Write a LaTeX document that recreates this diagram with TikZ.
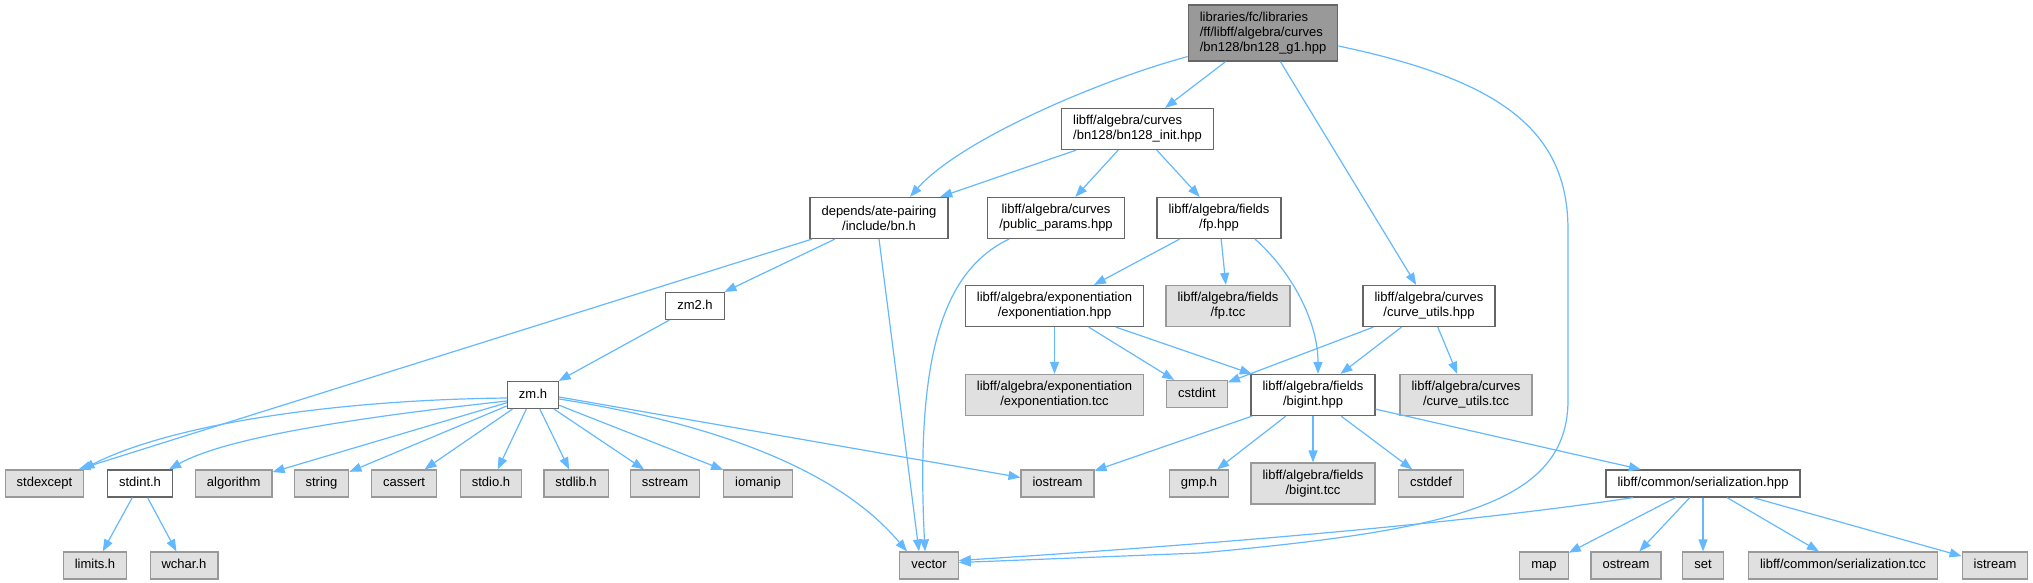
\documentclass[tikz,border=0pt]{standalone}
\usepackage{fontspec}
\setmainfont{Liberation Sans}
\usetikzlibrary{arrows.meta}
\definecolor{edgeblue}{HTML}{63B8FF}
\definecolor{nodeborder}{HTML}{666666}
\definecolor{extborder}{HTML}{999999}
\definecolor{extfill}{HTML}{E0E0E0}
\definecolor{rootfill}{HTML}{999999}
\begin{document}
\begin{tikzpicture}[x=1pt,y=-1pt,
  base/.style={line width=1.2pt, inner xsep=11.5pt, inner ysep=0pt,
    font=\fontsize{13}{15}\selectfont, align=center},
  one/.style={minimum height=27pt, text height=9.5pt, text depth=3pt},
  two/.style={minimum height=41pt},
  box1/.style={base, one, draw=nodeborder, fill=white},
  box2/.style={base, two, draw=nodeborder, fill=white},
  ext1/.style={base, one, draw=extborder, fill=extfill},
  ext2/.style={base, two, draw=extborder, fill=extfill},
  rootbox/.style={base, draw=nodeborder, fill=rootfill, minimum height=56pt, align=left},
  edge/.style={draw=edgeblue, line width=1.2pt, -{Triangle[length=12pt,width=9pt]}}
]
\useasboundingbox (0,0) rectangle (2033,583);

% nodes
\node[rootbox] (root) at (1263,33) {libraries/fc/libraries\\/ff/libff/algebra/curves\\/bn128/bn128\_g1.hpp};
\node[box2, align=left] (init) at (1137.5,129) {libff/algebra/curves\\/bn128/bn128\_init.hpp};
\node[box2] (bn) at (879,218) {depends/ate-pairing\\/include/bn.h};
\node[box2] (pp) at (1056,218) {libff/algebra/curves\\/public\_params.hpp};
\node[box2] (fp) at (1219,218) {libff/algebra/fields\\/fp.hpp};
\node[box2] (exph) at (1054.5,306) {libff/algebra/exponentiation\\/exponentiation.hpp};
\node[ext2] (fptcc) at (1228,306) {libff/algebra/fields\\/fp.tcc};
\node[box2] (cuh) at (1429,306) {libff/algebra/curves\\/curve\_utils.hpp};
\node[ext2] (exptcc) at (1054.5,395) {libff/algebra/exponentiation\\/exponentiation.tcc};
\node[ext1] (cstdint) at (1197,394) {cstdint};
\node[box2] (bigint) at (1313,395) {libff/algebra/fields\\/bigint.hpp};
\node[ext2] (cutcc) at (1466,395) {libff/algebra/curves\\/curve\_utils.tcc};
\node[box1] (zm2) at (695,306) {zm2.h};
\node[box1] (zm) at (533,395) {zm.h};

\node[ext1] (stdexcept) at (44.5,483.5) {stdexcept};
\node[box1] (stdint) at (140,483.5) {stdint.h};
\node[ext1] (algorithm) at (233.7,483.5) {algorithm};
\node[ext1] (string) at (321.5,483.5) {string};
\node[ext1] (cassert) at (404,483.5) {cassert};
\node[ext1] (stdio) at (491,483.5) {stdio.h};
\node[ext1] (stdlib) at (576,483.5) {stdlib.h};
\node[ext1] (sstream) at (665,483.5) {sstream};
\node[ext1] (iomanip) at (758,483.5) {iomanip};
\node[ext1] (iostream) at (1057.5,483.5) {iostream};
\node[ext1] (gmp) at (1199,483.5) {gmp.h};
\node[ext2] (bigtcc) at (1313,483.5) {libff/algebra/fields\\/bigint.tcc};
\node[ext1] (cstddef) at (1431,483.5) {cstddef};
\node[box1] (ser) at (1703,483.5) {libff/common/serialization.hpp};

\node[ext1] (limits) at (95,565.5) {limits.h};
\node[ext1] (wchar) at (184,565.5) {wchar.h};
\node[ext1] (vector) at (929,565.5) {vector};
\node[ext1] (map) at (1544,565.5) {map};
\node[ext1] (ostream) at (1626,565.5) {ostream};
\node[ext1] (set) at (1703,565.5) {set};
\node[ext1] (sertcc) at (1843,565.5) {libff/common/serialization.tcc};
\node[ext1] (istream) at (1995,565.5) {istream};

% edges from root
\draw[edge] ([yshift=5pt]root.south west) .. controls (1100,80) and (960,140) .. ([xshift=31pt]bn.north);
\draw[edge] (root) -- (init);
\draw[edge] (root) -- (cuh);
\draw[edge] ([yshift=-13pt]root.east) .. controls (1500,80) and (1568,130) .. (1568,230)
  -- (1568,400) .. controls (1568,505) and (1450,530) .. (1200,553) -- ([yshift=3pt]vector.east);

% bn128_init
\draw[edge] (init) -- (bn);
\draw[edge] (init) -- (pp);
\draw[edge] (init) -- (fp);

% bn.h
\draw[edge] (bn) -- ([xshift=-6pt]stdexcept.north east);
\draw[edge] (bn) -- (zm2);
\draw[edge] (bn.south) -- ([xshift=-10pt]vector.north);

% public params
\draw[edge] ([xshift=-47pt]pp.south) .. controls (945,270) and (915,350) .. ([xshift=-4pt]vector.north);

% zm2 / zm
\draw[edge] (zm2) -- (zm);
\draw[edge] ([yshift=-3pt]zm.west) .. controls (330,400) and (170,425) .. ([xshift=-2pt]stdexcept.north east);
\draw[edge] ([yshift=-6pt]zm.west) .. controls (380,415) and (230,435) .. ([xshift=-4pt]stdint.north east);
\draw[edge] (zm) -- (algorithm);
\draw[edge] (zm) -- (string);
\draw[edge] (zm) -- (cassert);
\draw[edge] (zm) -- (stdio);
\draw[edge] (zm) -- (stdlib);
\draw[edge] (zm) -- (sstream);
\draw[edge] (zm) -- (iomanip);
\draw[edge] ([yshift=-2pt]zm.east) -- ([yshift=6pt]iostream.west);
\draw[edge] ([yshift=-4pt]zm.east) .. controls (690,420) and (830,460) .. ([xshift=-22pt]vector.north);

% stdint
\draw[edge] (stdint) -- (limits);
\draw[edge] (stdint) -- (wchar);

% fp.hpp
\draw[edge] (fp) -- (exph);
\draw[edge] (fp) -- (fptcc);
\draw[edge] ([xshift=36pt]fp.south) .. controls (1290,270) and (1318,320) .. ([xshift=5pt]bigint.north);

% exponentiation
\draw[edge] (exph) -- (exptcc);
\draw[edge] (exph) -- (cstdint);
\draw[edge] (exph) -- (bigint);

% curve utils
\draw[edge] (cuh) -- (cstdint);
\draw[edge] (cuh) -- (bigint);
\draw[edge] (cuh) -- (cutcc);

% bigint
\draw[edge] (bigint) -- (iostream);
\draw[edge] (bigint) -- (gmp);
\draw[edge] (bigint) -- (bigtcc);
\draw[edge] (bigint) -- (cstddef);
\draw[edge] (bigint) -- (ser);

% serialization
\draw[edge] ([xshift=-70pt]ser.south) .. controls (1450,525) and (1200,545) .. ([yshift=5pt]vector.east);
\draw[edge] (ser) -- (map);
\draw[edge] (ser) -- (ostream);
\draw[edge] (ser) -- (set);
\draw[edge] (ser) -- (sertcc);
\draw[edge] (ser) -- (istream);
\end{tikzpicture}
\end{document}
